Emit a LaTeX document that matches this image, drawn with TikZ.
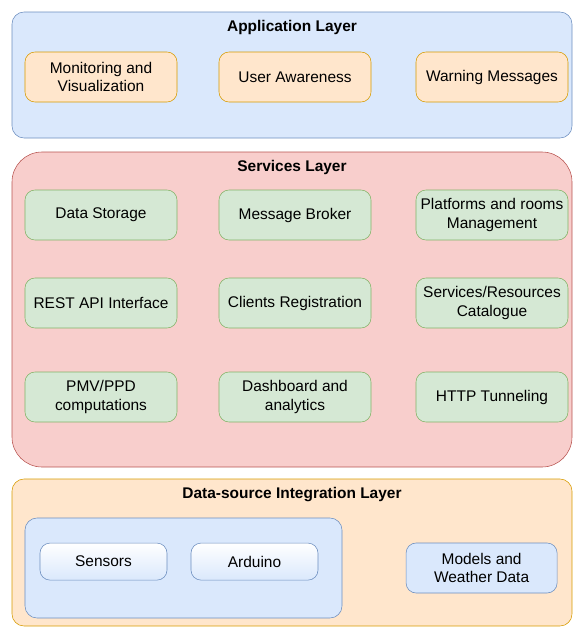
\documentclass[tikz,border=0pt]{standalone}
\usepackage{fontspec}
\setmainfont{Liberation Sans}
\usepackage{tikz}
\usetikzlibrary{shapes,calc,positioning}
\definecolor{appfill}{HTML}{DAE8FC}
\definecolor{appline}{HTML}{6C8EBF}
\definecolor{orfill}{HTML}{FFE6CC}
\definecolor{orline}{HTML}{D79B00}
\definecolor{redfill}{HTML}{F8CECC}
\definecolor{redline}{HTML}{B85450}
\definecolor{grfill}{HTML}{D5E8D4}
\definecolor{grline}{HTML}{82B366}
\tikzset{
    font=\fontsize{11}{13}\selectfont, line width=0.7pt,
    layer/.style ={rectangle, draw, rounded corners=0.3cm, minimum width=14cm},
    title/.style ={font=\fontsize{11}{13}\selectfont\bfseries},
    block/.style ={rectangle, draw, rounded corners=0.25cm, align=center,
        minimum width=3.8cm, minimum height=1.25cm},
    appblock/.style ={block, fill=orfill, draw=orline},
    srvblock/.style ={block, fill=grfill, draw=grline},
    devblock/.style ={block, draw=appline, top color=white, bottom color=appfill,
        minimum width=3.175cm, minimum height=0.925cm}
}
\begin{document}
\begin{tikzpicture}
    \useasboundingbox (0,0) rectangle (14.35,-15.7);
    % application layer
    \node[layer, fill=appfill, draw=appline, minimum height=3.15cm] (app) at (7.3,-1.875) {};
    \node[title] (apptitle) at (7.3,-0.7) {Application Layer};
    \node[appblock] (mon) at (2.525,-1.925) {Monitoring and\\Visualization};
    \node[appblock] (user) at (7.375,-1.925) {User Awareness};
    \node[appblock] (warn) at (12.3,-1.925) {Warning Messages};

    % services layer
    \node[layer, fill=redfill, draw=redline, rounded corners=0.75cm, minimum height=7.875cm] (srv) at (7.3,-7.7375) {};
    \node[title] (srvtitle) at (7.3,-4.175) {Services Layer};
    \node[srvblock] (store) at (2.525,-5.375) {Data Storage};
    \node[srvblock] (broker) at (7.375,-5.375) {Message Broker};
    \node[srvblock] (rooms) at (12.3,-5.375) {Platforms and rooms\\Management};
    \node[srvblock] (rest) at (2.525,-7.575) {REST API Interface};
    \node[srvblock] (reg) at (7.375,-7.575) {Clients Registration};
    \node[srvblock] (cat) at (12.3,-7.575) {Services/Resources\\Catalogue};
    \node[srvblock] (pmv) at (2.525,-9.925) {PMV/PPD\\computations};
    \node[srvblock] (dash) at (7.375,-9.925) {Dashboard and\\analytics};
    \node[srvblock] (http) at (12.3,-9.925) {HTTP Tunneling};

    % data-source integration layer
    \node[layer, fill=orfill, draw=orline, minimum height=3.675cm] (data) at (7.3,-13.8125) {};
    \node[title] (datatitle) at (7.3,-12.375) {Data-source Integration Layer};
    \node[layer, fill=appfill, draw=appline, minimum width=7.925cm, minimum height=2.5cm] (field) at (4.5875,-14.2) {};
    \node[devblock] (sens) at (2.5875,-14.04) {Sensors};
    \node[devblock] (ard) at (6.3625,-14.04) {Arduino};
    \node[block, fill=appfill, draw=appline, minimum width=3.775cm] (model) at (12.04,-14.2) {Models and\\Weather Data};
\end{tikzpicture}
\end{document}
